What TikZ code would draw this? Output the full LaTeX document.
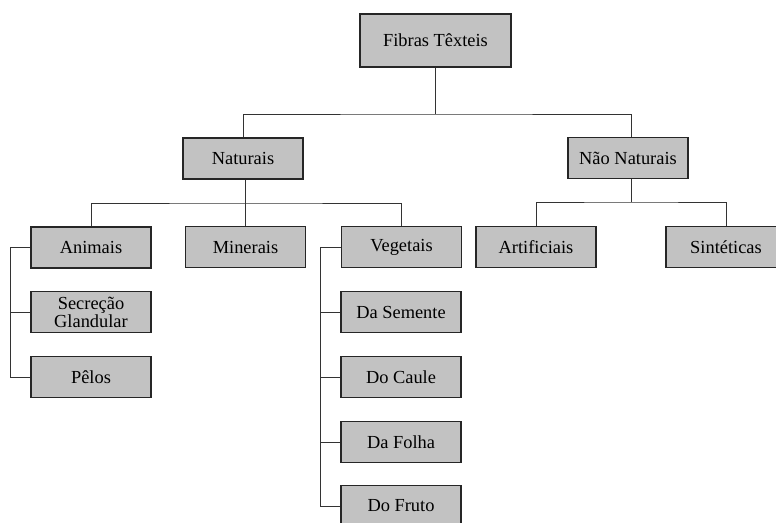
\documentclass[tikz,border=0pt]{standalone}
\usepackage{fontspec}
\setmainfont{Liberation Serif}
\begin{document}
\begin{tikzpicture}[x=1pt,y=-1pt,
  box/.style={draw=black!85, line width=1.1pt, fill=black!24, minimum width=120pt, minimum height=41pt, inner sep=0pt, align=center, font=\fontsize{18.4}{20}\selectfont},
  conn/.style={draw=black!80, line width=0.9pt}]
\useasboundingbox (0,0) rectangle (776,522);
\begin{scope}
\clip (0,0) rectangle (776,522);
\node[box, minimum width=151pt, minimum height=53pt] (fibras) at (435.5,40.5) {Fibras Têxteis};
\node[box] (nat) at (243,158.5) {Naturais};
\node[box] (nao) at (628,158) {Não Naturais};
\node[box] (animais) at (91,247.5) {Animais};
\node[box] (minerais) at (245.5,247) {Minerais};
\node[box] (vegetais) at (401.5,247) {Vegetais};
\node[box] (artificiais) at (536,247) {Artificiais};
\node[box] (sinteticas) at (726,247) {Sintéticas};
\node[box] (secrecao) at (91,312) {Secreção\\[-2pt]Glandular};
\node[box] (pelos) at (91,377) {Pêlos};
\node[box] (semente) at (401,312) {Da Semente};
\node[box] (caule) at (401,377) {Do Caule};
\node[box] (folha) at (401,442) {Da Folha};
\node[box] (fruto) at (401,506) {Do Fruto};

\coordinate (j1) at (435.5,114);
\coordinate (j2) at (245.5,203);
\coordinate (j3) at (631,202);
\coordinate (lx) at (10,0);
\coordinate (vx) at (320,0);

\draw[conn] (fibras.south) -- (j1);
\draw[conn] (nat.north) |- (j1) -| (nao.north -| j3);
\draw[conn] (nat.south -| j2) -- (minerais.north);
\draw[conn] (animais.north) |- (j2) -| (vegetais.north);
\draw[conn] (nao.south -| j3) -- (j3);
\draw[conn] (artificiais.north) |- (j3) -| (sinteticas.north);

\draw[conn] (animais.west) -- (animais.west -| lx) -- (pelos.west -| lx) -- (pelos.west);
\draw[conn] (secrecao.west) -- (secrecao.west -| lx);

\draw[conn] (vegetais.west) -- (vegetais.west -| vx) -- (fruto.west -| vx) -- (fruto.west);
\draw[conn] (semente.west) -- (semente.west -| vx);
\draw[conn] (caule.west) -- (caule.west -| vx);
\draw[conn] (folha.west) -- (folha.west -| vx);
\end{scope}
\end{tikzpicture}
\end{document}
